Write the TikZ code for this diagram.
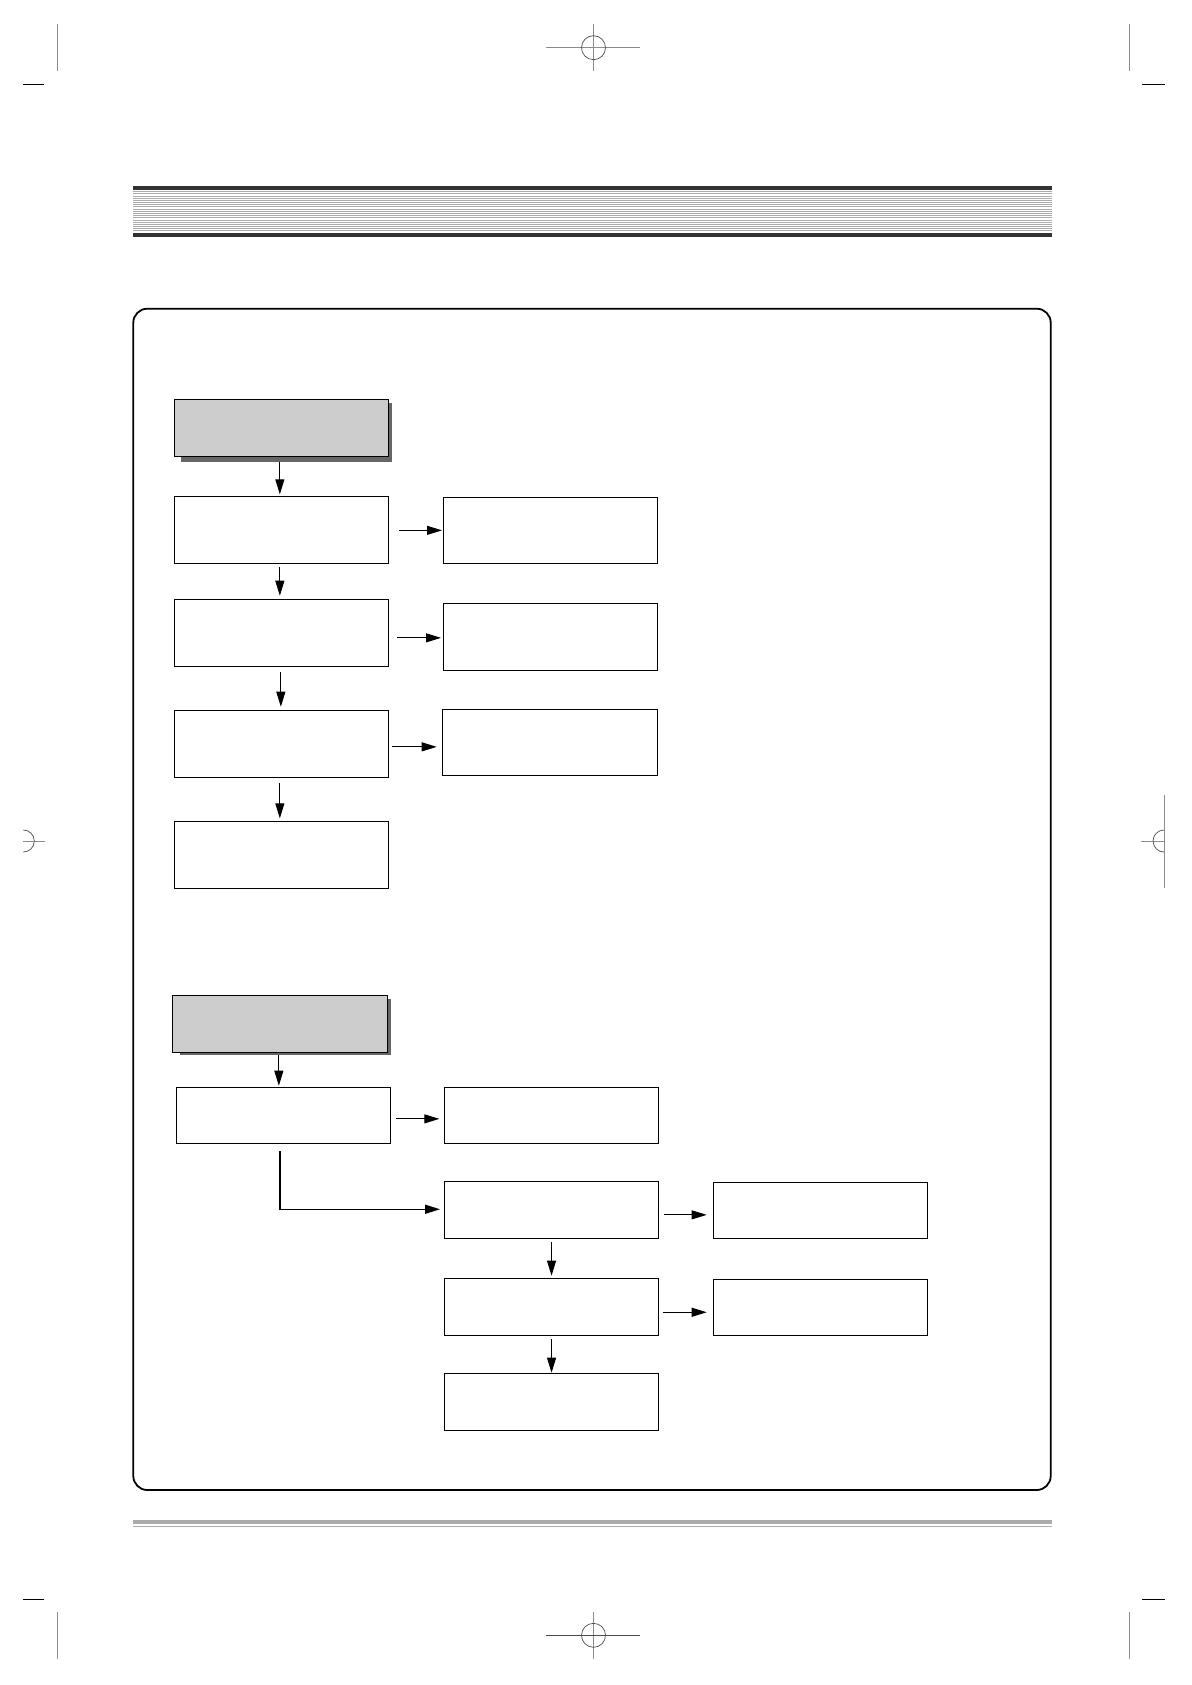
\documentclass[tikz,border=0pt]{standalone}
\usetikzlibrary{arrows.meta,backgrounds,calc}
\definecolor{darkband}{HTML}{333333}
\definecolor{stripe}{HTML}{ABABAB}
\definecolor{boxgray}{HTML}{CCCCCC}
\definecolor{shadowc}{HTML}{666666}
\definecolor{markc}{HTML}{8C8C8C}
\begin{document}
\begin{tikzpicture}[x=1pt,y=-1pt,
  box/.style={draw=black,line width=1.1pt,fill=white,inner sep=0pt,anchor=north west,rectangle},
  graybox/.style={box,fill=boxgray},
  arr/.style={line width=0.9pt,-{Triangle[length=15pt,width=9pt]}},
  cropline/.style={draw=markc,line width=0.7pt},
  croptick/.style={draw=black,line width=0.9pt},
  croparc/.style={draw=black!70,line width=0.7pt}]
\useasboundingbox (0,0) rectangle (1191,1685);
% crop marks
\draw[cropline] (57,24) -- (57,70.7);
\draw[cropline] (1129,24) -- (1129,70.7);
\draw[croptick] (23,84.3) -- (44,84.3);
\draw[croptick] (1142,84.3) -- (1165,84.3);
\draw[cropline] (593.5,24) -- (593.5,70.7);
\draw[cropline] (546,47.7) -- (640,47.7);
\draw[croparc] (593.5,47.7) circle[radius=12pt];
\draw[cropline] (57,1612) -- (57,1658.7);
\draw[cropline] (1129,1612) -- (1129,1658.7);
\draw[croptick] (23,1599.3) -- (44,1599.3);
\draw[croptick] (1142,1599.3) -- (1165,1599.3);
\draw[cropline] (593.5,1612) -- (593.5,1658.7);
\draw[croparc] (546,1635.3) -- (640,1635.3);
\draw[croparc] (593.5,1635.3) circle[radius=12pt];
\draw[cropline] (23.3,841) -- (45,841);
\draw[croparc] (23.3,830) arc[start angle=90,end angle=-90,radius=11pt];
\draw[cropline] (1164,795) -- (1164,887.7);
\draw[cropline] (1141,841) -- (1164,841);
\draw[croparc] (1164,830) arc[start angle=90,end angle=270,radius=11pt];
% header
\fill[darkband] (133,186) rectangle (1052,189.7);
\fill[darkband] (133,232.7) rectangle (1052,237);
\foreach \i in {0,...,18} {
  \fill[stripe] (133,{191.3+\i*2.17}) rectangle (1052,{192.3+\i*2.17});
}
% footer lines
\fill[stripe] (133,1520) rectangle (1052,1523.7);
\draw[stripe,line width=0.8pt] (133,1526.3) -- (1052,1526.3);
% frame
\draw[line width=1.8pt,rounded corners=14pt] (133.3,308.7) rectangle (1050.7,1490);
% upper flow
\node[graybox,minimum width=213.4pt,minimum height=57pt] (A) at (174.3,399.3) {};
\node[box,minimum width=213.4pt,minimum height=67pt] (B1) at (174.3,496.3) {};
\node[box,minimum width=213.4pt,minimum height=67pt] (B2) at (174.3,599.3) {};
\node[box,minimum width=213.4pt,minimum height=67pt] (B3) at (174.3,710.3) {};
\node[box,minimum width=213.4pt,minimum height=67pt] (B4) at (174.3,821.3) {};
\node[box,minimum width=213.4pt,minimum height=66pt] (R1) at (443.3,497.3) {};
\node[box,minimum width=213.4pt,minimum height=67pt] (R2) at (443.3,603.3) {};
\node[box,minimum width=214.4pt,minimum height=66pt] (R3) at (442.3,709.3) {};
% lower flow
\node[graybox,minimum width=214.4pt,minimum height=56.7pt] (C) at (172.3,995) {};
\node[box,minimum width=213.4pt,minimum height=56pt] (D1) at (176.3,1087.3) {};
\node[box,minimum width=213.4pt,minimum height=56pt] (E1) at (444.3,1087.3) {};
\node[box,minimum width=213.4pt,minimum height=57pt] (E2) at (444.3,1181.3) {};
\node[box,minimum width=213.4pt,minimum height=57pt] (E3) at (444.3,1278.3) {};
\node[box,minimum width=213.4pt,minimum height=57pt] (E4) at (444.3,1373.3) {};
\node[box,minimum width=214pt,minimum height=56pt] (F1) at (713.3,1182.3) {};
\node[box,minimum width=213.4pt,minimum height=56.3pt] (F2) at (713.3,1279) {};
% shadows
\begin{scope}[on background layer]
\fill[shadowc] ([xshift=6.7pt,yshift=-4.4pt]A.south west) rectangle ([xshift=3pt,yshift=-4pt]A.north east);
\fill[shadowc] ([xshift=7.7pt,yshift=-2pt]C.south west) rectangle ([xshift=3.3pt,yshift=-4pt]C.north east);
\end{scope}
% vertical arrows
\draw[arr] ([xshift=-1.7pt,yshift=-4.4pt]A.south) -- ([xshift=-1.7pt,yshift=2pt]B1.north);
\draw[arr] ([xshift=-1.7pt,yshift=-2.7pt]B1.south) -- ([xshift=-1.7pt,yshift=3.6pt]B2.north);
\draw[arr] ([xshift=-0.7pt,yshift=-4.7pt]B2.south) -- ([xshift=-0.7pt,yshift=3.6pt]B3.north);
\draw[arr] ([xshift=-1.7pt,yshift=-4.7pt]B3.south) -- ([xshift=-1.7pt,yshift=3pt]B4.north);
\draw[arr] ([xshift=-1.2pt,yshift=-2pt]C.south) -- ([xshift=-4.7pt,yshift=1.6pt]D1.north);
\draw[arr] ([yshift=-2.7pt]E2.south) -- ([yshift=2.6pt]E3.north);
\draw[arr] ([yshift=-2.4pt]E3.south) -- ([yshift=0.6pt]E4.north);
% horizontal arrows
\draw[arr,shorten <=10.3pt,shorten >=1.3pt] (B1.east) -- (B1.east -| R1.west);
\draw[arr,shorten <=8.3pt,shorten >=2.3pt] ([yshift=-4.5pt]B2.east) -- ([yshift=-4.5pt]B2.east -| R2.west);
\draw[arr,shorten <=3.3pt,shorten >=5.6pt] ([yshift=-2.5pt]B3.east) -- ([yshift=-2.5pt]B3.east -| R3.west);
\draw[arr,shorten <=5.3pt,shorten >=5pt] ([yshift=-3pt]D1.east) -- ([yshift=-3pt]D1.east -| E1.west);
\draw[arr,shorten <=5pt,shorten >=6.6pt] ([yshift=-4.5pt]E2.east) -- ([yshift=-4.5pt]E2.east -| F1.west);
\draw[arr,shorten <=4.3pt,shorten >=6.6pt] ([yshift=-4.9pt]E3.east) -- ([yshift=-4.9pt]E3.east -| F2.west);
% elbow connector
\draw[line width=1.5pt,-{Triangle[length=15pt,width=9pt]},shorten >=4.3pt] ([xshift=-3.7pt,yshift=-6.7pt]D1.south) |- ([yshift=1.1pt]E2.west);
\end{tikzpicture}
\end{document}
